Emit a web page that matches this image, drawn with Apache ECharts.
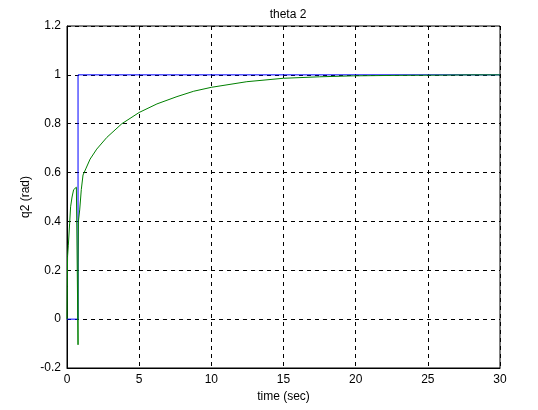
<!DOCTYPE html>
<html><head><meta charset="utf-8">
<script src="https://cdn.jsdelivr.net/npm/echarts@6/dist/echarts.min.js"></script>
<style>html,body{margin:0;padding:0;background:#fff}#c{width:538px;height:410px}</style>
</head><body><div id="c"></div>
<script>
var titleText = "theta 2";
var xName = "time (sec)";
var yName = "q2 (rad)";
var refT = [0, 0.765, 0.765, 30];
var refQ = [0, 0, 1, 1];
var outT = [0, 0.02, 0.02, 0.03, 0.04, 0.09, 0.18, 0.25, 0.35, 0.46, 0.65, 0.75, 0.765, 0.77, 0.79, 0.88, 0.99, 1.11, 1.3, 1.6, 2.06, 2.76, 3.8, 5, 6.23, 7.62, 8.78, 10, 12.46, 15, 17.5, 19.85, 23, 26, 28, 30];
var outQ = [0, 0, 0.134, 0.134, 0.257, 0.3, 0.39, 0.46, 0.5, 0.53, 0.54, 0.545, -0.105, 0.23, 0.4, 0.447, 0.53, 0.59, 0.615, 0.655, 0.696, 0.744, 0.8, 0.846, 0.881, 0.911, 0.933, 0.949, 0.972, 0.986, 0.992, 0.996, 0.998, 0.999, 1, 1];
function pairs(a, b) { return a.map(function (v, i) { return [v, b[i]]; }); }
var chart = echarts.init(document.getElementById('c'));
var ff = 'Liberation Sans, Arial, sans-serif';
chart.setOption({
  animation: false,
  backgroundColor: '#fff',
  title: { text: titleText, left: 283, top: 4, textAlign: 'center',
    textStyle: { fontFamily: ff, fontSize: 12, fontWeight: 'normal', color: '#000' } },
  grid: { left: 67, right: 38, top: 26, bottom: 42, show: true, borderColor: '#000', borderWidth: 1 },
  xAxis: { type: 'value', min: 0, max: 30, interval: 5,
    name: xName, nameLocation: 'middle', nameGap: 23, nameMoveOverlap: false,
    nameTextStyle: { fontFamily: ff, fontSize: 12, color: '#000' },
    axisLine: { show: true, onZero: false, lineStyle: { color: '#000' } },
    axisTick: { show: false },
    axisLabel: { fontFamily: ff, fontSize: 12, color: '#000', margin: 6 },
    splitLine: { show: true, lineStyle: { color: '#000', type: [4, 4], width: 1 } } },
  yAxis: { type: 'value', min: -0.2, max: 1.2, interval: 0.2,
    name: yName, nameLocation: 'middle', nameGap: 35, nameMoveOverlap: false,
    nameTextStyle: { fontFamily: ff, fontSize: 12, color: '#000' },
    axisLine: { show: true, onZero: false, lineStyle: { color: '#000' } },
    axisTick: { show: false },
    axisLabel: { fontFamily: ff, fontSize: 12, color: '#000', margin: 6,
      formatter: function (v) { return String(Math.round(v * 10) / 10); } },
    splitLine: { show: true, lineStyle: { color: '#000', type: [4, 4], width: 1 } } },
  series: [
    { type: 'line', data: pairs(refT, refQ), showSymbol: false, symbol: 'none',
      lineStyle: { color: '#0000ff', width: 1 }, z: 2 },
    { type: 'line', data: pairs(outT, outQ), showSymbol: false, symbol: 'none',
      lineStyle: { color: '#008000', width: 1 }, z: 3 }
  ]
});
</script></body></html>
